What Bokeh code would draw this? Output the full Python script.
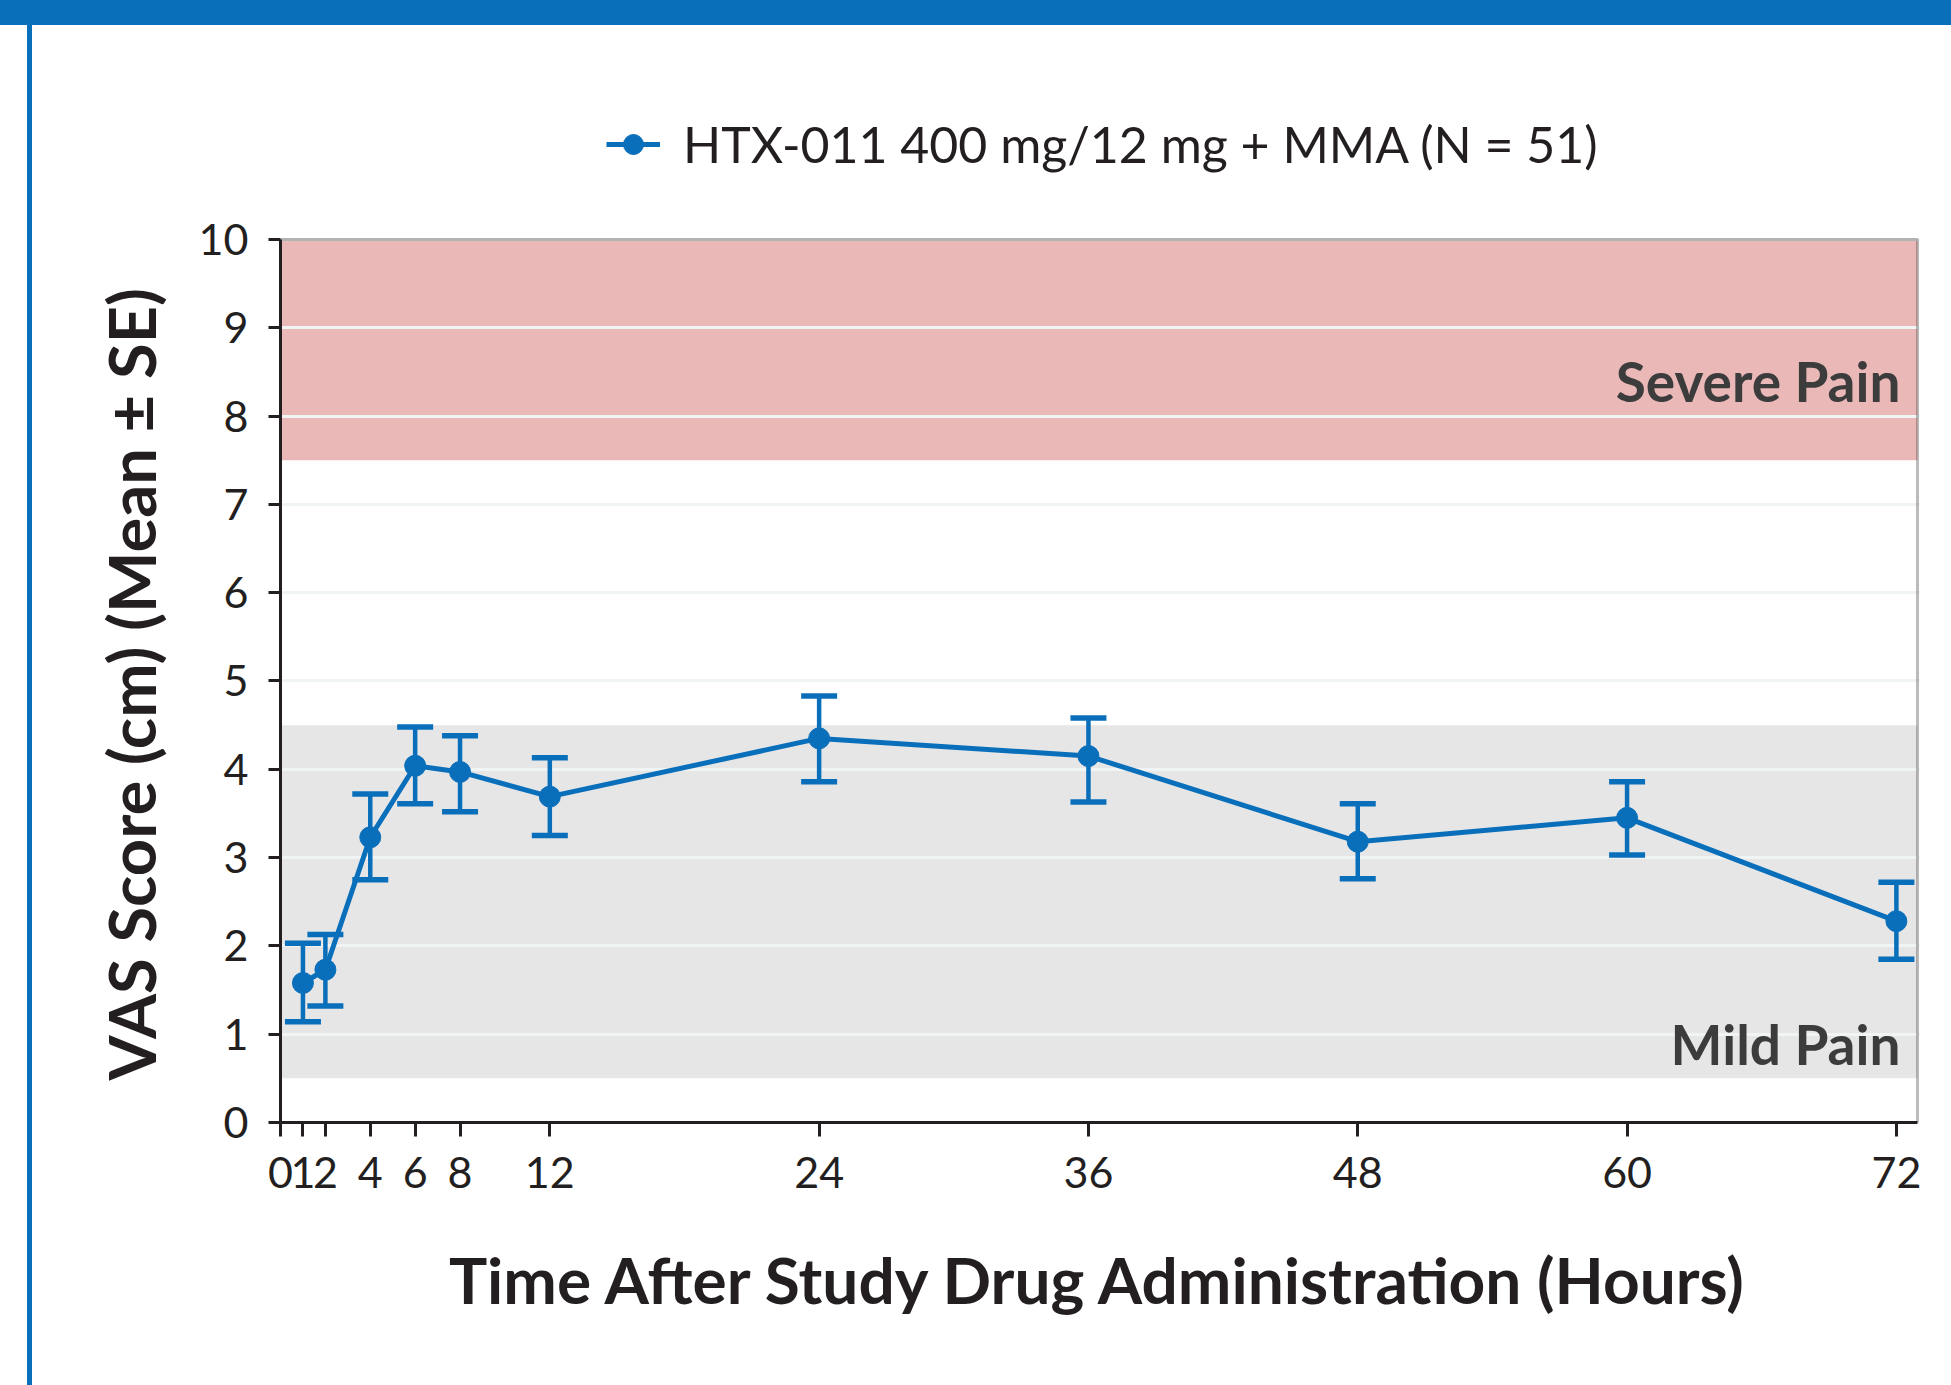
from bokeh.plotting import figure
from bokeh.models import (ColumnDataSource, Whisker, TeeHead, BoxAnnotation, Label, Title,
                          Legend, LegendItem, FixedTicker, Range1d, InlineStyleSheet)
from bokeh.embed import file_html
from bokeh.resources import INLINE

# ---------------- data ----------------
hours = [1, 2, 4, 6, 8, 12, 24, 36, 48, 60, 72]
vas_mean = [1.58, 1.73, 3.23, 4.04, 3.97, 3.69, 4.35, 4.15, 3.18, 3.45, 2.28]
se_lower = [1.14, 1.32, 2.75, 3.61, 3.52, 3.25, 3.86, 3.63, 2.76, 3.03, 1.85]
se_upper = [2.03, 2.13, 3.72, 4.48, 4.38, 4.13, 4.83, 4.58, 3.61, 3.86, 2.72]
x_ticks = [0, 1, 2, 4, 6, 8, 12, 24, 36, 48, 60, 72]
y_ticks = [0, 1, 2, 3, 4, 5, 6, 7, 8, 9, 10]
series_label = "HTX-011 400 mg/12 mg + MMA (N = 51)"
severe_band = [7.5, 10]
mild_band = [0.5, 4.5]
severe_text = "Severe Pain"
mild_text = "Mild Pain"
x_title = "Time After Study Drug Administration (Hours)"
y_title = "VAS Score (cm) (Mean \u00b1 SE)"

BLUE = "#0A6FBA"
INK = "#231F20"
FONT = "Lato"

X_END = 72.94          # right edge of the plotting box (hours)
Y_TOP = 10             # top of the plotting box (cm)

W, H = 1951, 1385
# frame extends above the plotting box so the legend can sit in it
p = figure(width=W, height=H, output_backend="svg", toolbar_location=None,
           x_range=Range1d(0, 73.03), y_range=Range1d(0, 12.027),
           min_border_left=280, min_border_right=32, min_border_top=60, min_border_bottom=263)
p.title.visible = False
p.background_fill_color = "white"
p.border_fill_alpha = 0
p.outline_line_color = None

# page decorations: blue header bar and left rule (CSS background of the plot element)
p.stylesheets = [InlineStyleSheet(css=(
    ":host { background: "
    "linear-gradient(#0A6FBA, #0A6FBA) 0 0 / 100% 25px no-repeat, "
    "linear-gradient(#0A6FBA, #0A6FBA) 27px 0 / 5px 100% no-repeat, "
    "#FFFFFF; }"))]

# bands
p.add_layout(BoxAnnotation(left=0, right=X_END, bottom=severe_band[0], top=severe_band[1],
                           fill_color="#EBB8B8", fill_alpha=1, line_alpha=0, level="image"))
p.add_layout(BoxAnnotation(left=0, right=X_END, bottom=mild_band[0], top=mild_band[1],
                           fill_color="#E6E6E6", fill_alpha=1, line_alpha=0, level="image"))

# grid
p.xgrid.visible = False
p.ygrid.ticker = FixedTicker(ticks=y_ticks)
p.ygrid.grid_line_color = "#F0F4F4"
p.ygrid.grid_line_width = 3
p.ygrid.bounds = (0, X_END)

# plotting box outline
p.add_layout(BoxAnnotation(left=0, right=X_END, bottom=0, top=Y_TOP, fill_alpha=0,
                           line_color=INK, line_width=3))

# axes
for ax in (p.xaxis[0], p.yaxis[0]):
    ax.axis_line_color = INK
    ax.axis_line_width = 3
    ax.major_tick_line_color = INK
    ax.major_tick_line_width = 3
    ax.major_tick_in = 0
    ax.minor_tick_line_color = None
    ax.major_label_text_font = FONT
    ax.major_label_text_font_size = "43px"
    ax.major_label_text_color = INK
    ax.axis_label_text_font = FONT
    ax.axis_label_text_font_style = "bold"
    ax.axis_label_text_font_size = "64px"
    ax.axis_label_text_color = INK

p.xaxis.ticker = FixedTicker(ticks=x_ticks)
p.xaxis.bounds = (0, X_END)
p.xaxis.major_tick_out = 14
p.xaxis.major_label_standoff = 20
p.xaxis.axis_label = x_title
p.xaxis.axis_label_standoff = 50

p.yaxis.ticker = FixedTicker(ticks=y_ticks)
p.yaxis.bounds = (0, Y_TOP)
p.yaxis.major_tick_out = 12
p.yaxis.major_label_standoff = 20

# y-axis title, aligned on the 0-10 plotting box rather than the whole frame
p.add_layout(Title(text=y_title, align="left", offset=42, standoff=52,
                   text_font=FONT, text_font_style="bold", text_font_size="65px",
                   text_color=INK), "left")

# data
src = ColumnDataSource(dict(x=hours, y=vas_mean, lo=se_lower, hi=se_upper))
p.add_layout(Whisker(source=src, base="x", lower="lo", upper="hi",
                     line_color=BLUE, line_width=4.5,
                     upper_head=TeeHead(size=36, line_color=BLUE, line_width=5.5),
                     lower_head=TeeHead(size=36, line_color=BLUE, line_width=5.5),
                     level="glyph"))
line_r = p.line("x", "y", source=src, line_color=BLUE, line_width=5)
dot_r = p.scatter("x", "y", source=src, size=21, fill_color=BLUE, line_color=BLUE)

legend = Legend(items=[LegendItem(label=series_label, renderers=[line_r, dot_r])],
                location=(326, 948), orientation="horizontal",
                glyph_width=54, glyph_height=50, label_text_font=FONT,
                label_text_font_size="50px", label_text_color=INK,
                background_fill_alpha=0, border_line_alpha=0, padding=0, margin=0,
                label_standoff=23)
p.add_layout(legend, "center")

# band labels
p.add_layout(Label(x=1620, y=8.40, x_units="screen", text=severe_text, text_align="right",
                   text_baseline="alphabetic",
                   text_font=FONT, text_font_style="bold", text_font_size="55px",
                   text_color="#3C3C3C"))
p.add_layout(Label(x=1620, y=0.89, x_units="screen", text=mild_text, text_align="right",
                   text_baseline="alphabetic",
                   text_font=FONT, text_font_style="bold", text_font_size="55px",
                   text_color="#3C3C3C"))

open("out.html", "w").write(file_html(p, INLINE))
